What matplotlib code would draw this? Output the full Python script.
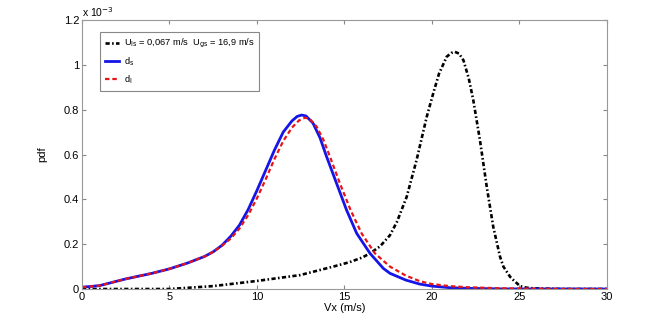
import numpy as np
import matplotlib.pyplot as plt

plt.rcParams['font.family'] = ['Liberation Sans', 'DejaVu Sans']

# pdf values in units of 1e-3
v_gs = [0, 5, 7.5, 10, 12.46, 14.36, 15.3, 16.0, 16.46, 17.03, 17.6, 18.0, 18.55, 19.12,
        19.7, 20.08, 20.4, 20.84, 21.1, 21.31, 21.55, 21.8, 22.1, 22.36, 22.74, 23.13, 23.5,
        23.89, 24.08, 24.46, 24.65, 25.03, 25.4, 25.8, 27.5, 30]
pdf_gs = [0, 0, 0.013, 0.036, 0.062, 0.1, 0.12, 0.14, 0.159, 0.19, 0.24, 0.3, 0.41, 0.575,
          0.768, 0.875, 0.96, 1.036, 1.053, 1.058, 1.05, 1.02, 0.94, 0.843, 0.665, 0.456, 0.278,
          0.144, 0.1, 0.055, 0.04, 0.013, 0.006, 0.003, 0, 0]

v_s = [0, 1, 2.5, 4, 5, 6, 7, 7.5, 8, 8.5, 9, 9.5, 10, 10.5, 11, 11.5, 12, 12.3,
       12.55, 12.8, 13.2, 13.6, 13.98, 14.55, 15.12, 15.7, 16.46, 17.22, 17.6, 18.5,
       19.3, 20, 21, 22, 24, 30]
pdf_s = [0.008, 0.015, 0.045, 0.07, 0.09, 0.115, 0.145, 0.166, 0.195, 0.235, 0.285, 0.355, 0.44, 0.53,
         0.62, 0.70, 0.75, 0.77, 0.776, 0.772, 0.74, 0.675, 0.59, 0.471, 0.352,
         0.248, 0.159, 0.092, 0.07, 0.04, 0.022, 0.013, 0.006, 0.003, 0.0005, 0]

v_l = [0, 1, 2.5, 4, 5, 6, 7, 7.5, 8, 8.5, 9, 9.5, 10, 10.5, 11, 11.5, 12, 12.4,
       12.74, 13.0, 13.41, 13.8, 14.17, 14.74, 15.35, 15.98, 16.74, 17.6, 18.5, 19.3,
       20, 21, 22, 24, 27.5, 30]
pdf_l = [0.008, 0.015, 0.045, 0.07, 0.09, 0.115, 0.145, 0.166, 0.193, 0.225, 0.27, 0.33, 0.405, 0.49,
         0.58, 0.66, 0.72, 0.752, 0.764, 0.76, 0.724, 0.665, 0.59, 0.471, 0.352,
         0.248, 0.159, 0.1, 0.06, 0.035, 0.022, 0.013, 0.008, 0.003, 0.0005, 0]

fig = plt.figure(figsize=(6.67, 3.15), dpi=100)
ax = fig.add_axes([0.1229, 0.0825, 0.7871, 0.854])

ax.plot(v_gs, pdf_gs, color='black', linewidth=1.9, dashes=(1.6, 0.9, 0.6, 0.9),
        label=r'U$_\mathrm{ls}$ = 0,067 m/s  U$_\mathrm{gs}$ = 16,9 m/s')
ax.plot(v_s, pdf_s, color='#1515e8', linestyle='-', linewidth=2, label=r'd$_\mathrm{s}$')
ax.plot(v_l, pdf_l, color='#e81515', linewidth=1.6, dashes=(2, 1.3), label=r'd$_\mathrm{l}$')

ax.set_xlim(0, 30)
ax.set_ylim(0, 1.2)
ax.set_xticks(np.arange(0, 31, 5))
ax.set_yticks([0, 0.2, 0.4, 0.6, 0.8, 1, 1.2])
ax.set_yticklabels(['0', '0.2', '0.4', '0.6', '0.8', '1', '1.2'])
ax.tick_params(direction='in', top=True, right=True, labelsize=8, length=3, color='#888888', pad=2)
for s in ax.spines.values():
    s.set_color('#999999')
    s.set_linewidth(0.8)

ax.set_xlabel('Vx (m/s)', fontsize=8, labelpad=1)
ax.set_ylabel('pdf', fontsize=8, labelpad=12)
ax.text(0, 1.205, 'x 10$^{-3}$', fontsize=7.5, ha='left', va='bottom')

leg = ax.legend(loc='upper left', bbox_to_anchor=(0.034, 0.955), borderaxespad=0, fontsize=6.7,
                handlelength=1.5, handletextpad=0.5, labelspacing=0.55, fancybox=False,
                framealpha=1, borderpad=0.55)
leg.get_frame().set_edgecolor('#888888')
leg.get_frame().set_linewidth(0.8)

fig.savefig('out.png', dpi=100)
